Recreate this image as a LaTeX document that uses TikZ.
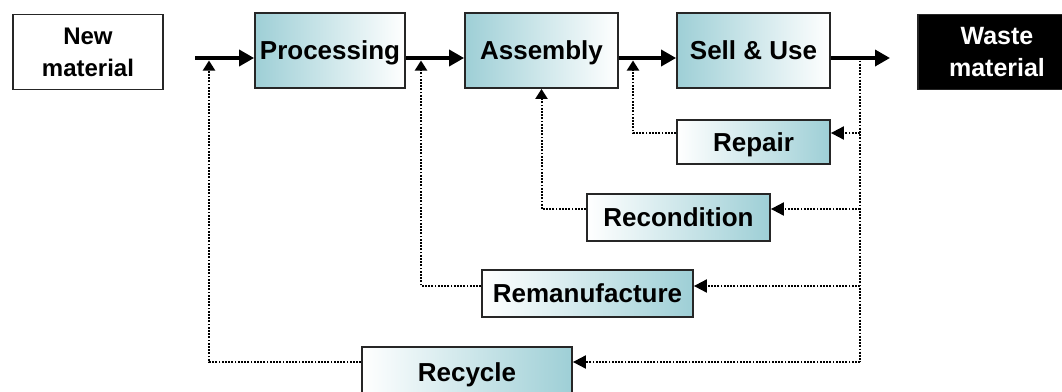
\documentclass[tikz,border=0pt]{standalone}
\usepackage{fontspec}
\setmainfont{Liberation Sans}
\usetikzlibrary{arrows.meta}
\definecolor{tealish}{RGB}{158,207,214}
\begin{document}
\begin{tikzpicture}[x=1pt,y=-1pt,
  box/.style={draw=black!85,line width=1.8pt,inner sep=0pt,align=center,
    font=\bfseries\fontsize{26}{31}\selectfont},
  oneline/.style={text height=18.5pt,text depth=0pt},
  plain/.style={box,fill=white,font=\bfseries\fontsize{24}{32}\selectfont},
  fwd/.style={box,oneline,left color=tealish,right color=white},
  back/.style={box,oneline,left color=white,right color=tealish},
  sink/.style={box,fill=black,text=white,font=\bfseries\fontsize{25}{32}\selectfont},
  flow/.style={line width=3.5pt,-{Triangle[length=15pt,width=16pt]}},
  ret/.style={line width=2pt,dash pattern=on 1.8pt off 1.4pt},
  retin/.style={ret,-{Triangle[length=13pt,width=13pt]}},
  retup/.style={ret,-{Triangle[length=10pt,width=12pt]}}
]
\useasboundingbox (0,0) rectangle (1062,391);
\clip (0,0) rectangle (1062,391);

% main chain
\node[plain,minimum width=150pt,minimum height=75pt] (new) at (88,52) {New\\material};
\node[fwd,minimum width=150pt,minimum height=75pt] (proc) at (330,50.5) {Processing};
\node[fwd,minimum width=153pt,minimum height=75pt] (asm) at (541.5,50.5) {Assembly};
\node[fwd,minimum width=153pt,minimum height=75pt] (sell) at (753.5,50.5) {Sell \& Use};
\node[sink,minimum width=158pt,minimum height=75pt] (waste) at (997,52) {Waste\\material};

% recovery boxes
\node[back,minimum width=153pt,minimum height=44pt] (repair) at (753.5,142) {Repair};
\node[back,minimum width=183pt,minimum height=47pt] (recon) at (678.5,217.5) {Recondition};
\node[back,minimum width=211pt,minimum height=47pt] (reman) at (587.5,293.5) {Remanufacture};
\node[back,minimum width=210pt,minimum height=50pt] (recyc) at (467,372) {Recycle};

% forward flow
\coordinate (start) at (195,58);
\coordinate (out) at (890,58);
\draw[flow] (start) -- (proc.west |- start);
\draw[flow] (proc.east |- start) -- (asm.west |- start);
\draw[flow] (asm.east |- start) -- (sell.west |- start);
\draw[flow] (sell.east |- start) -- (out);

% collection line after use
\coordinate (tap) at (860,60.5);
\coordinate (t1) at (860,133);
\coordinate (t2) at (860,209);
\coordinate (t3) at (860,286);
\coordinate (t4) at (860,362);
\draw[ret] (tap) -- (t4);
\draw[retin] (t1) -- (repair.east |- t1);
\draw[retin] (t2) -- (recon.east |- t2);
\draw[retin] (t3) -- (reman.east |- t3);
\draw[retin] (t4) -- (recyc.east |- t4);

% returns into the chain
\coordinate (m1) at (633,60.5);
\coordinate (m3) at (421,60.5);
\coordinate (m4) at (209,60.5);
\draw[retup] (repair.west |- t1) -| (m1);
\draw[retup] (recon.west |- t2) -| (asm.south);
\draw[retup] (reman.west |- t3) -| (m3);
\draw[retup] (recyc.west |- t4) -| (m4);
\end{tikzpicture}
\end{document}
